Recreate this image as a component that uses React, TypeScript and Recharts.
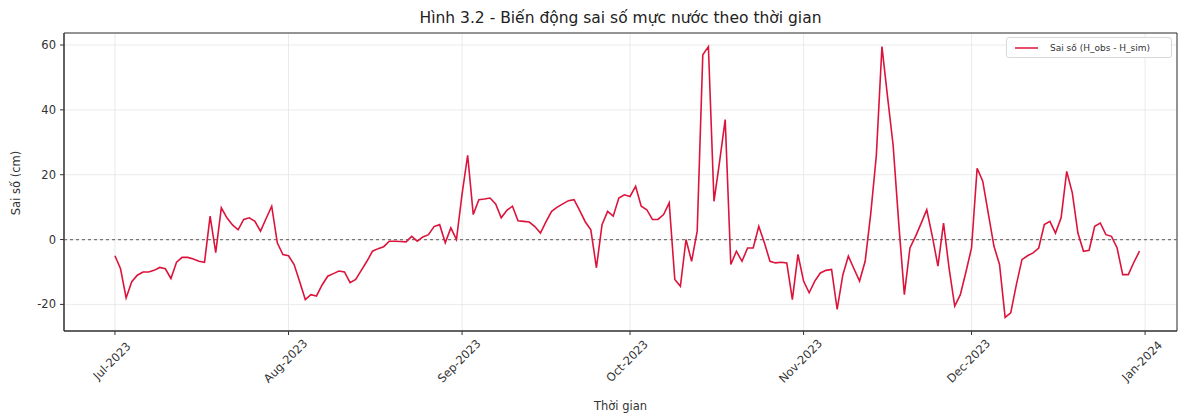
import React from 'react';
import { LineChart, Line, XAxis, YAxis, CartesianGrid, ReferenceLine, ReferenceArea, Legend } from 'recharts';

const START_DATE = '2023-07-01';

// Daily water-level error (cm), H_obs - H_sim, from 2023-07-01
const ERROR_CM = [
  -5, -9, -18, -13, -11, -10, -10, -9.5, -8.6, -9,
  -12, -7, -5.5, -5.5, -6, -6.7, -7, 7.2, -4, 9.8,
  6.7, 4.5, 3, 6.2, 6.7, 5.6, 2.6, 6.5, 10.3, -1,
  -4.6, -5, -7.7, -13, -18.5, -17, -17.4, -14, -11.3, -10.5,
  -9.7, -10, -13.3, -12.3, -9.5, -6.7, -3.6, -2.8, -2.2, -0.5,
  -0.5, -0.6, -0.7, 1, -0.5, 0.8, 1.5, 4, 4.6, -1,
  3.6, 0, 14, 26, 7.7, 12.3, 12.5, 12.8, 11, 6.7,
  9, 10.3, 5.8, 5.6, 5.4, 4, 2, 5.5, 8.7, 10,
  11, 12, 12.3, 9, 5.5, 3, -8.7, 4.6, 8.7, 7.2,
  12.8, 13.8, 13.3, 16.4, 10.3, 9.2, 6.2, 6.2, 7.7, 11.3,
  -12.3, -14.4, 0, -6.7, 2.6, 57, 59.5, 11.8, 24, 37,
  -7.7, -3.6, -6.7, -2.6, -2.6, 4.1, -1, -6.7, -7.2, -7,
  -7.2, -18.5, -4.6, -12.8, -16.4, -12.8, -10.3, -9.5, -9.2, -21.5,
  -11, -5.1, -9, -12.8, -6.7, 8, 26, 59.5, 44, 29,
  5, -17, -2.6, 1, 5, 9.2, 1, -8.2, 5.1, -9,
  -20.5, -17, -10, -2.6, 22, 18, 8, -2, -7.7, -24,
  -22.6, -14, -6.2, -5, -4.1, -2.6, 4.6, 5.6, 2, 6.7,
  21, 14.4, 2, -3.6, -3.3, 4.1, 5.1, 1.5, 1, -2.6,
  -10.8, -10.8, -7, -3.6,
];

const X_TICK_DATES = ['2023-07-01', '2023-08-01', '2023-09-01', '2023-10-01', '2023-11-01', '2023-12-01', '2024-01-01'];
const X_TICK_LABELS = ['Jul-2023', 'Aug-2023', 'Sep-2023', 'Oct-2023', 'Nov-2023', 'Dec-2023', 'Jan-2024'];
const Y_TICKS = [-20, 0, 20, 40, 60];

const TITLE = 'Hình 3.2 - Biến động sai số mực nước theo thời gian';
const X_LABEL = 'Thời gian';
const Y_LABEL = 'Sai số (cm)';
const SERIES_NAME = 'Sai số (H_obs - H_sim)';

const DAY = 86400000;
const t0 = Date.parse(START_DATE);
const data = ERROR_CM.map((v, i) => ({
  day: i,
  date: new Date(t0 + i * DAY).toISOString().slice(0, 10),
  err: v,
}));
const tickDays = X_TICK_DATES.map((d) => Math.round((Date.parse(d) - t0) / DAY));

const X_DOMAIN: [number, number] = [-9.1, 189.7];
const Y_DOMAIN: [number, number] = [-28.2, 63.7];

const FONT = '"DejaVu Sans", sans-serif';
const LINE_COLOR = '#dc143c';
const TEXT_COLOR = '#333';

const XTick = (props: any) => {
  const { x, y, payload } = props;
  const idx = tickDays.indexOf(payload.value);
  return (
    <g transform={`translate(${x - 3},${y + 24})`}>
      <text
        transform="rotate(-45)"
        textAnchor="middle"
        dominantBaseline="central"
        fontSize={11.5}
        fontFamily={FONT}
        fill={TEXT_COLOR}
      >
        {X_TICK_LABELS[idx]}
      </text>
    </g>
  );
};

const LegendBox = () => (
  <div
    style={{
      width: 166,
      height: 21,
      boxSizing: 'border-box',
      border: '1px solid #d8d8d8',
      borderRadius: 3,
      background: 'rgba(255,255,255,0.85)',
      display: 'flex',
      alignItems: 'center',
      fontFamily: FONT,
      fontSize: 9,
      color: TEXT_COLOR,
    }}
  >
    <svg width={40} height={10} style={{ flex: 'none' }}>
      <line x1={8} y1={5} x2={31} y2={5} stroke={LINE_COLOR} strokeWidth={1.5} />
    </svg>
    <span style={{ marginLeft: 3, whiteSpace: 'nowrap' }}>{SERIES_NAME}</span>
  </div>
);

export default function App() {
  return (
    <div style={{ position: 'absolute', left: 0, top: 0, width: 1190, height: 416, background: '#fff', fontFamily: FONT }}>
      <div
        style={{
          position: 'absolute', left: 64, width: 1113, top: 9, textAlign: 'center',
          fontSize: 15.5, color: '#222', whiteSpace: 'nowrap',
        }}
      >
        {TITLE}
      </div>
      <div
        style={{
          position: 'absolute', left: 64, width: 1113, top: 399, textAlign: 'center',
          fontSize: 11.5, color: TEXT_COLOR,
        }}
      >
        {X_LABEL}
      </div>
      <div style={{ position: 'absolute', left: 16, top: 183, width: 0, height: 0 }}>
        <div
          style={{
            position: 'absolute', transform: 'translate(-50%,-50%) rotate(-90deg)',
            fontSize: 11.5, color: TEXT_COLOR, whiteSpace: 'nowrap',
          }}
        >
          {Y_LABEL}
        </div>
      </div>
      <LineChart
        width={1190}
        height={416}
        data={data}
        margin={{ top: 33, right: 13, bottom: 25, left: 24 }}
        style={{ position: 'absolute', left: 0, top: 0 }}
      >
        <CartesianGrid stroke="#e6e6e6" strokeWidth={0.8} />
        <XAxis
          dataKey="day"
          type="number"
          domain={X_DOMAIN}
          ticks={tickDays}
          interval={0}
          tick={<XTick />}
          tickSize={4}
          tickLine={{ stroke: '#333' }}
          axisLine={{ stroke: '#333' }}
          height={60}
          allowDataOverflow
        />
        <YAxis
          type="number"
          domain={Y_DOMAIN}
          ticks={Y_TICKS}
          interval={0}
          width={40}
          tickSize={4}
          tickMargin={4}
          tickLine={{ stroke: '#333' }}
          axisLine={{ stroke: '#333' }}
          tick={{ fontSize: 11.5, fill: TEXT_COLOR, fontFamily: FONT }}
          allowDataOverflow
        />
        <ReferenceArea
          x1={X_DOMAIN[0]}
          x2={X_DOMAIN[1]}
          y1={Y_DOMAIN[0]}
          y2={Y_DOMAIN[1]}
          fill="none"
          fillOpacity={0}
          stroke="#333"
          strokeWidth={1}
          ifOverflow="extendDomain"
        />
        <ReferenceLine y={0} stroke="#777" strokeDasharray="3 3" strokeWidth={1.2} />
        <Line
          type="linear"
          dataKey="err"
          name={SERIES_NAME}
          stroke={LINE_COLOR}
          strokeWidth={1.6}
          dot={false}
          activeDot={false}
          isAnimationActive={false}
        />
        <Legend
          layout="horizontal"
          verticalAlign="middle"
          align="center"
          content={<LegendBox />}
          wrapperStyle={{ position: 'absolute', left: 1006, top: 37, width: 166, height: 21 }}
        />
      </LineChart>
    </div>
  );
}
